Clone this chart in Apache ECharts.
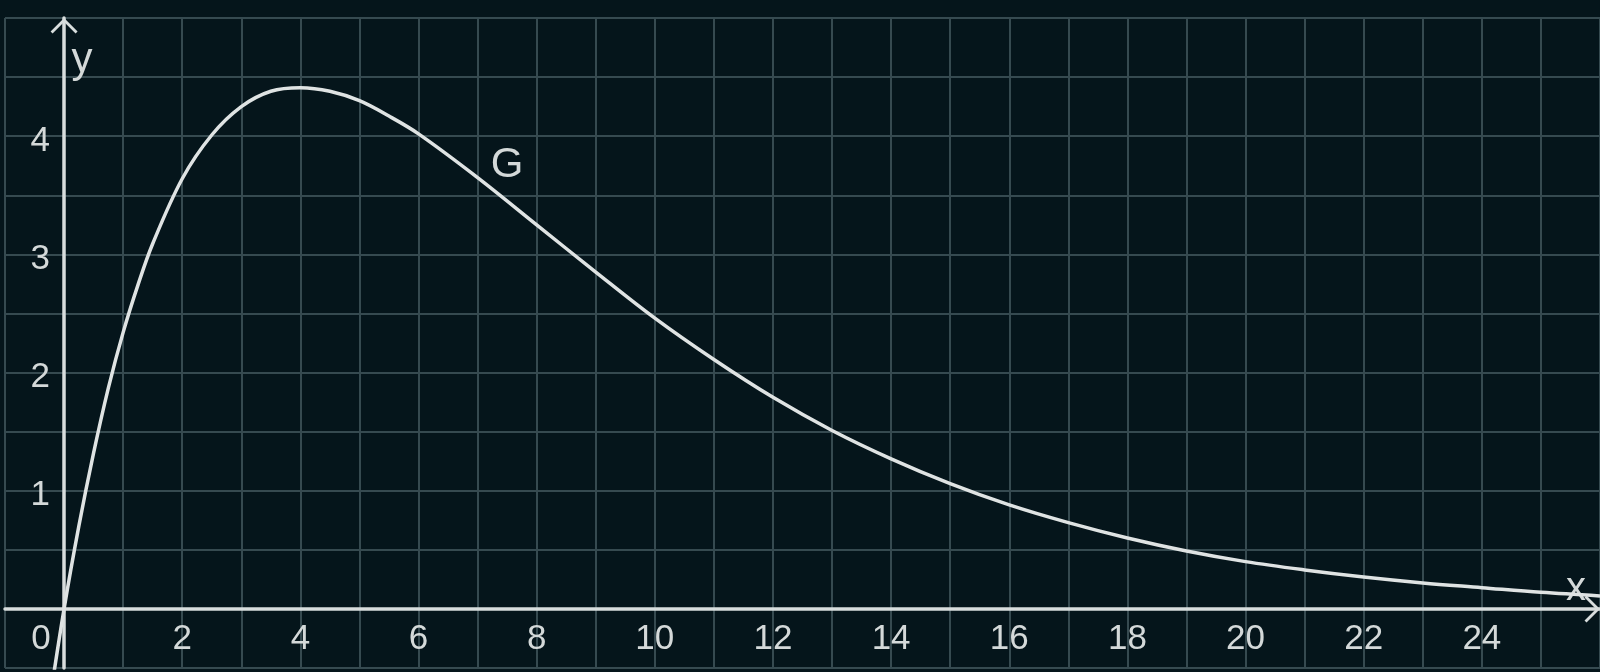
<!DOCTYPE html>
<html>
<head>
<meta charset="utf-8">
<script src="https://cdn.jsdelivr.net/npm/echarts@6/dist/echarts.min.js"></script>
<style>
  html, body { margin: 0; padding: 0; background: #05151b; }
  #chart { width: 1600px; height: 672px; }
</style>
</head>
<body>
<div id="chart"></div>
<script>
// Values
const xValues = [-0.25, 0, 0.25, 0.5, 0.75, 1, 1.25, 1.5, 2, 2.5, 3, 3.5, 4, 4.5, 5, 5.5, 6, 7, 8, 9, 10, 11, 12, 13, 14, 15, 16, 17, 18, 19, 20, 21, 22, 23, 24, 25, 26];
const gValues = [-0.80, 0, 0.70, 1.32, 1.87, 2.34, 2.74, 3.09, 3.64, 4.01, 4.25, 4.38, 4.41, 4.38, 4.30, 4.17, 4.02, 3.65, 3.25, 2.85, 2.46, 2.11, 1.79, 1.51, 1.27, 1.06, 0.88, 0.73, 0.60, 0.49, 0.40, 0.33, 0.27, 0.22, 0.18, 0.14, 0.11];
const xTickLabels = [0, 2, 4, 6, 8, 10, 12, 14, 16, 18, 20, 22, 24];
const yTickLabels = [1, 2, 3, 4];
const seriesName = 'G';
const xName = 'x';
const yName = 'y';

const TEXT = '#d4d9d9';
const AXIS = '#d8dddd';
const GRID = '#364a50';
const FONT = '"Liberation Sans", Arial, sans-serif';
const arrow = 'path://M13.5,0 L27,13.5 L25,15.5 L13.5,4 L2,15.5 L0,13.5 Z';

const W = 1600, H = 672;
const G = { left: 5, right: 0, top: 18, bottom: 4 };
const X_MIN = -1, X_MAX = 26, Y_MIN = -0.5, Y_MAX = 5;
const gridW = W - G.left - G.right, gridH = H - G.top - G.bottom;
// move each axis from the grid edge to the other axis' zero line
const xAxisOffset = -gridH * (0 - Y_MIN) / (Y_MAX - Y_MIN);
const yAxisOffset = -gridW * (0 - X_MIN) / (X_MAX - X_MIN);

const isLabel = (list, v) => list.some(t => Math.abs(t - v) < 1e-6);

const chart = echarts.init(document.getElementById('chart'), null, { renderer: 'canvas' });
chart.setOption({
  animation: false,
  backgroundColor: '#05151b',
  grid: { left: G.left, right: G.right, top: G.top, bottom: G.bottom, containLabel: false, outerBoundsMode: 'none' },
  xAxis: {
    type: 'value',
    min: X_MIN, max: X_MAX, interval: 1,
    position: 'bottom',
    offset: xAxisOffset,
    name: xName,
    nameLocation: 'end',
    nameGap: -24,
    nameTextStyle: { color: TEXT, fontSize: 40, fontFamily: FONT, align: 'center', verticalAlign: 'bottom' },
    axisLine: { onZero: false, lineStyle: { color: AXIS, width: 3.5 }, symbol: ['none', arrow], symbolSize: [27, 15.5], symbolOffset: [0, -7.75] },
    axisTick: { show: false },
    splitLine: { show: true, lineStyle: { color: GRID, width: 2 } },
    axisLabel: {
      color: TEXT, fontSize: 35, fontFamily: FONT, margin: 13,
      formatter: v => {
        if (Math.abs(v) < 1e-6) return '{o|0}';
        return isLabel(xTickLabels, v) ? String(v) : '';
      },
      rich: { o: { color: TEXT, fontSize: 35, fontFamily: FONT, padding: [0, 46, 0, 0] } }
    }
  },
  yAxis: {
    type: 'value',
    min: Y_MIN, max: Y_MAX, interval: 0.5,
    position: 'left',
    offset: yAxisOffset,
    name: yName,
    nameLocation: 'end',
    nameGap: -42,
    nameTextStyle: { color: TEXT, fontSize: 42, fontFamily: FONT, align: 'center', verticalAlign: 'middle', padding: [0, 0, 0, 36] },
    axisLine: { onZero: false, lineStyle: { color: AXIS, width: 3.5 }, symbol: ['none', arrow], symbolSize: [27, 15.5], symbolOffset: [0, -7.75] },
    axisTick: { show: false },
    splitLine: { show: true, lineStyle: { color: GRID, width: 2 } },
    axisLabel: {
      color: TEXT, fontSize: 35, fontFamily: FONT, margin: 14,
      formatter: v => isLabel(yTickLabels, v) ? '{n|' + Math.round(v) + '}' : '',
      rich: { n: { color: TEXT, fontSize: 35, fontFamily: FONT, padding: [10, 0, 0, 0] } }
    }
  },
  series: [{
    name: seriesName,
    type: 'line',
    data: xValues.map((x, i) => [x, gValues[i]]),
    smooth: 0.35,
    showSymbol: false,
    clip: true,
    lineStyle: { color: '#dfe3e3', width: 3.5 },
    markPoint: {
      symbol: 'circle',
      symbolSize: 1,
      itemStyle: { color: 'rgba(0,0,0,0)' },
      label: { show: true, position: 'inside', formatter: seriesName, color: TEXT, fontSize: 42, fontFamily: FONT },
      data: [{ coord: [7.5, 3.75] }]
    }
  }]
});
</script>
</body>
</html>
